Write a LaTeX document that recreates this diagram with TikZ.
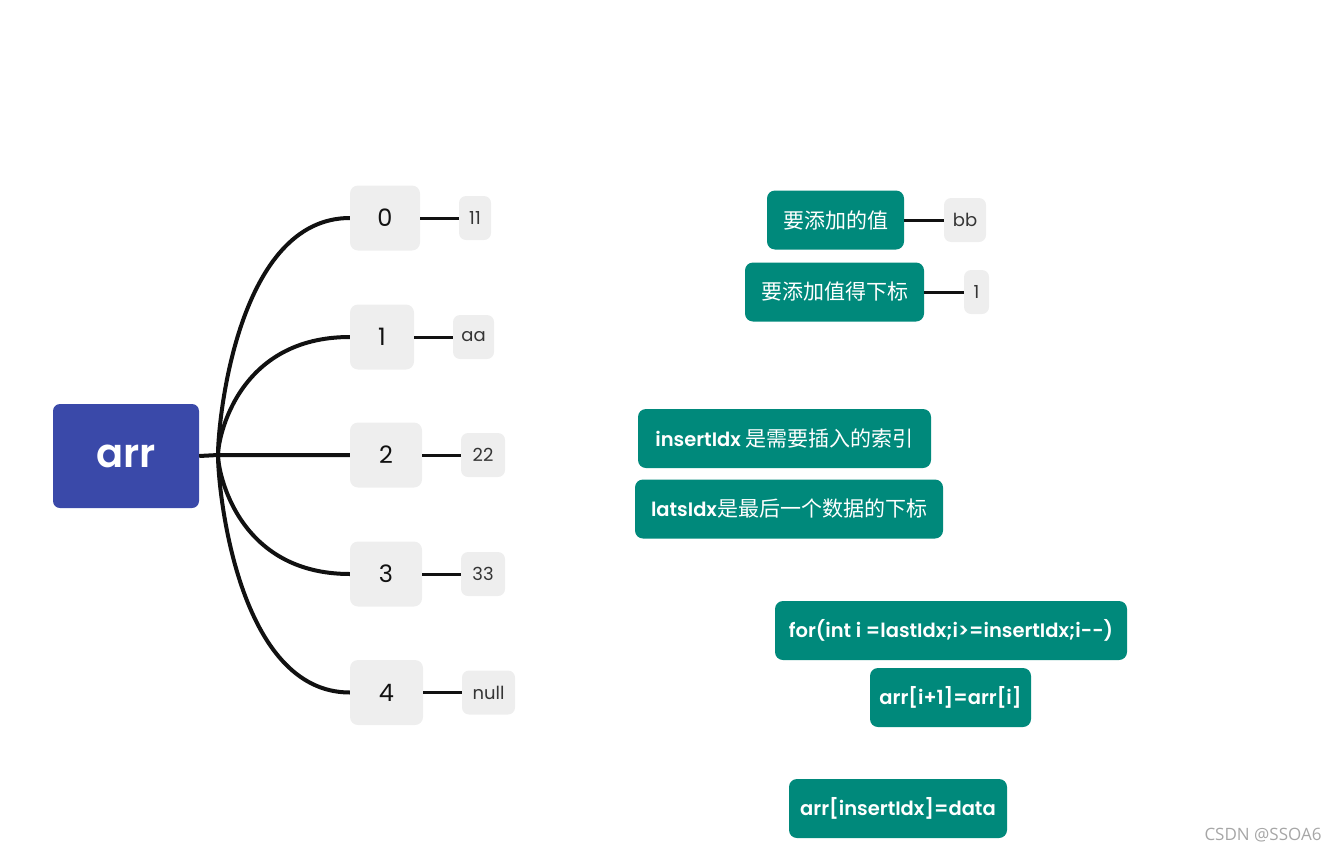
\documentclass[tikz,border=0pt]{standalone}
\usepackage{fontspec}
\setmainfont{Poppins}
\newfontfamily\semib{Poppins SemiBold}
\newfontfamily\cjk{Noto Sans CJK SC}
\usepackage{tikz}
\usetikzlibrary{calc}
\definecolor{rootblue}{HTML}{3A49A9}
\definecolor{noteteal}{HTML}{00897B}
\definecolor{idxgray}{HTML}{EEEEEE}
\definecolor{inkdark}{HTML}{111111}
\tikzset{
  root/.style={fill=rootblue, rounded corners=7pt, text=white, minimum width=146pt, minimum height=104pt, font=\fontsize{40}{44}\semib},
  idx/.style={fill=idxgray, rounded corners=8pt, text=inkdark, minimum height=65pt, font=\fontsize{24}{28}\selectfont},
  val/.style={fill=idxgray, rounded corners=7pt, text=inkdark!85, minimum height=44pt, font=\fontsize{18}{22}\selectfont},
  note/.style={fill=noteteal, rounded corners=8pt, text=white, minimum height=59pt, font=\fontsize{19.5}{22}\semib},
  branch/.style={line width=4pt, draw=inkdark},
  leaf/.style={line width=3pt, draw=inkdark},
}
\begin{document}
\begin{tikzpicture}[x=1pt, y=-1pt]
  \useasboundingbox (0,0) rectangle (1344,854);
  % root and the array slots
  \node [root] (arr) at (126,456) {arr};
  \coordinate (fork) at (218,455);
  \node [idx, minimum width=70pt] (i0) at (385,218) {0};
  \node [idx, minimum width=64pt] (i1) at (382,337) {1};
  \node [idx, minimum width=72pt] (i2) at (386,455) {2};
  \node [idx, minimum width=72pt] (i3) at (386,574) {3};
  \node [idx, minimum width=73pt] (i4) at (386.5,692.5) {4};
  \node [val, minimum width=32pt] (v0) at (475,218) {11};
  \node [val, minimum width=41pt] (v1) at (473.5,337) {aa};
  \node [val, minimum width=44pt] (v2) at (483,455) {22};
  \node [val, minimum width=44pt] (v3) at (483,574) {33};
  \node [val, minimum width=53pt] (v4) at (488.5,692.5) {null};
  \draw [branch] (arr.east) -- (fork) -- (i2.west);
  \foreach \n in {0,1,3,4} {
    \draw [branch] (fork) .. controls ($(fork)!0.15!(fork|-i\n)$) and ($(fork|-i\n)+(20,0)$) .. (i\n.west);
  }
  \foreach \n in {0,...,4} {
    \draw [leaf] (i\n.east) -- (v\n.west);
  }
  % notes on the right
  \node [note, minimum width=137pt, font=\fontsize{21}{24}\cjk] (addval) at (835.5,220) {要添加的值};
  \node [val, minimum width=42pt] (bb) at (965,220) {bb};
  \node [note, minimum width=179pt, font=\fontsize{21}{24}\cjk] (addidx) at (834.5,292) {要添加值得下标};
  \node [val, minimum width=25pt] (one) at (976.5,292) {1};
  \draw [leaf] (addval.east) -- (bb.west);
  \draw [leaf] (addidx.east) -- (one.west);
  \node [note, minimum width=293pt] (ins) at (784.5,438.5) {insertIdx {\fontsize{21}{24}\cjk 是需要插入的索引}};
  \node [note, minimum width=308pt] (last) at (789,509) {latsIdx{\fontsize{21}{24}\cjk 是最后一个数据的下标}};
  \node [note, minimum width=352pt] (loop) at (951,630.5) {for(int i =lastIdx;i>=insertIdx;i-{}-)};
  \node [note, minimum width=161pt] (shift) at (950.5,697.5) {arr[i+1]=arr[i]};
  \node [note, minimum width=218pt] (put) at (898,808.5) {arr[insertIdx]=data};
  \node [text=black!35, font=\fontsize{17}{20}\selectfont\fontspec{Open Sans}] (mark) at (1263,835) {CSDN @SSOA6};
\end{tikzpicture}
\end{document}
